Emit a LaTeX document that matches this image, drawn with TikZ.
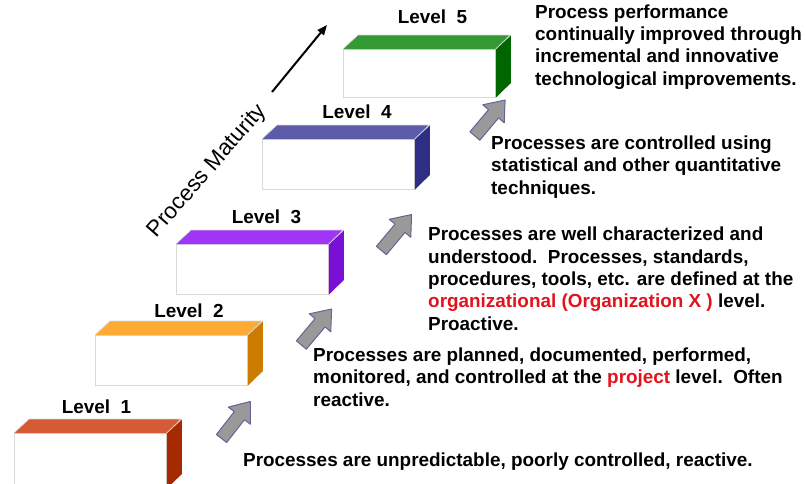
\documentclass[tikz,border=0pt]{standalone}
\usepackage{fontspec}
\setmainfont{Liberation Sans}
\usetikzlibrary{arrows.meta}
\definecolor{topA}{RGB}{214,91,53}\definecolor{sideA}{RGB}{165,42,0}
\definecolor{topB}{RGB}{255,170,51}\definecolor{sideB}{RGB}{204,122,0}
\definecolor{topC}{RGB}{160,53,245}\definecolor{sideC}{RGB}{122,15,214}
\definecolor{topD}{RGB}{91,91,170}\definecolor{sideD}{RGB}{46,46,132}
\definecolor{topE}{RGB}{51,153,51}\definecolor{sideE}{RGB}{0,102,0}
\definecolor{redtxt}{RGB}{225,20,30}
\definecolor{arrfill}{RGB}{153,153,153}
\definecolor{arredge}{RGB}{100,100,150}
\tikzset{
  front/.style={draw=black!15, line width=0.8pt, fill=white, minimum width=152pt, anchor=north west, inner sep=0pt},
  face/.style={draw=white!85!black, line width=0.6pt},
  lvl/.style={font=\fontsize{18.9pt}{22pt}\selectfont\bfseries, anchor=base, inner sep=0pt},
  desc/.style={font=\fontsize{18.9pt}{22.3pt}\selectfont\bfseries, align=left, anchor=base west, inner sep=0pt},
  garrow/.pic={\draw[fill=arrfill, draw=arredge, line width=1pt, line join=round]
     (-23.5,-6.5) -- (5.5,-6.5) -- (5.5,-14) -- (23.5,0) -- (5.5,14) -- (5.5,6.5) -- (-23.5,6.5) -- cycle;}
}
\newcommand{\stepblock}[6]{%
  \node[front, minimum height=#6pt] (#1) at (#2,#3) {};
  \fill[#4] (#1.north west) -- ++(15,-14) -- ++(152,0) -- (#1.north east) -- cycle;
  \draw[face] (#1.north west) -- ++(15,-14) -- ++(152,0) -- (#1.north east);
  \fill[#5] (#1.north east) -- ++(15,-14) -- ++(0,#6) -- (#1.south east) -- cycle;
  \draw[face] (#1.north east) -- ++(15,-14);
}
\begin{document}
\begin{tikzpicture}[x=1pt,y=-1pt]
\useasboundingbox (0,0) rectangle (806,483);
\begin{scope}
\clip (0,0) rectangle (806,483);
\stepblock{b1}{14}{433}{topA}{sideA}{55}
\end{scope}
\stepblock{b2}{95}{335}{topB}{sideB}{50}
\stepblock{b3}{176}{244}{topC}{sideC}{50}
\stepblock{b4}{262}{139}{topD}{sideD}{50}
\stepblock{b5}{343}{49}{topE}{sideE}{48}
\node[lvl] (l1) at (96.5,413) {Level\ \ 1};
\node[lvl] (l2) at (189,317) {Level\ \ 2};
\node[lvl] (l3) at (266.5,223) {Level\ \ 3};
\node[lvl] (l4) at (357,118) {Level\ \ 4};
\node[lvl] (l5) at (432.5,23) {Level\ \ 5};
\pic[rotate=52] at (236,420) {garrow};
\pic[rotate=50] at (316.5,327) {garrow};
\pic[rotate=50] at (396.5,232.5) {garrow};
\pic[rotate=50] at (490,118) {garrow};
\coordinate (pmA) at (272,92);
\coordinate (pmB) at (327,25);
\draw[line width=2pt, -{Triangle[length=10pt,width=8pt]}] (pmA) -- (pmB);
\node[font=\fontsize{22.5pt}{24pt}\selectfont, rotate=49, inner sep=0pt] (pm) at (207.5,171) {Process Maturity};
\node[desc] (t5) at (535,85) {Process performance\\continually improved through\\incremental and innovative\\technological improvements.};
\node[desc] (t4) at (491,194) {Processes are controlled using\\statistical and other quantitative\\techniques.};
\node[desc] (t3) at (428,330) {Processes are well characterized and\\understood.\ \ Processes, standards,\\procedures, tools, etc. are defined at the\\\textcolor{redtxt}{organizational (Organization X )} level.\\Proactive.};
\node[desc] (t2) at (313,406) {Processes are planned, documented, performed,\\monitored, and controlled at the \textcolor{redtxt}{project} level.\ \ Often\\reactive.};
\node[desc] (t1) at (243,466) {Processes are unpredictable, poorly controlled, reactive.};
\end{tikzpicture}
\end{document}
